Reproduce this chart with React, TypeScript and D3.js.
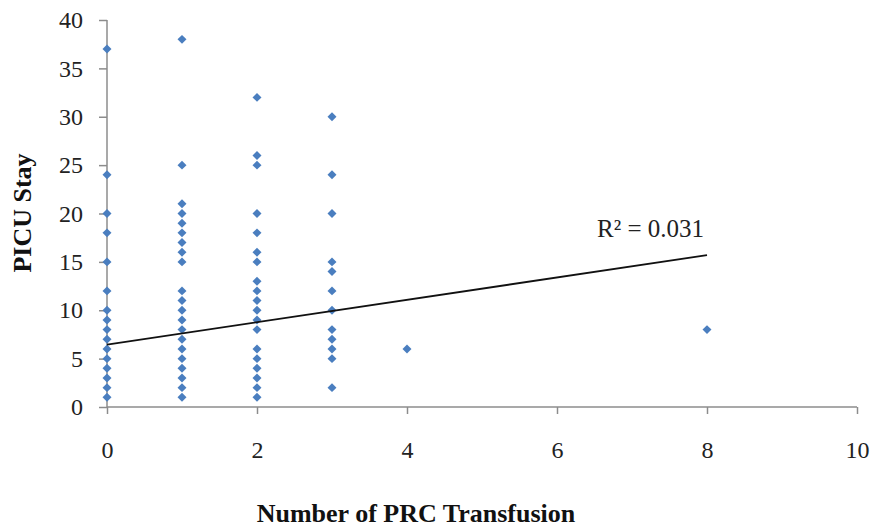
import { useRef, useEffect } from 'react';
import * as d3 from 'd3';

// PRC transfusion count (x) and PICU stay in days (y)
const prc0 = [1, 2, 3, 4, 5, 6, 7, 8, 9, 10, 12, 15, 18, 20, 24, 37];
const prc1 = [1, 2, 3, 4, 5, 6, 7, 8, 9, 10, 11, 12, 15, 16, 17, 18, 19, 20, 21, 25, 38];
const prc2 = [1, 2, 3, 4, 5, 6, 8, 9, 10, 11, 12, 13, 15, 16, 18, 20, 25, 26, 32];
const prc3 = [2, 5, 6, 7, 8, 10, 12, 14, 15, 20, 24, 30];
const prc4 = [6];
const prc8 = [8];

// trendline ends as drawn in the source chart
const trendX = [0, 8];
const trendY = [6.45, 15.7];
const rSquared = '0.031';

const xTicks = [0, 2, 4, 6, 8, 10];
const yTicks = [0, 5, 10, 15, 20, 25, 30, 35, 40];

function App() {
  const ref = useRef<SVGSVGElement | null>(null);

  useEffect(() => {
    const el = ref.current;
    if (!el) return;
    const svg = d3.select(el);
    svg.selectAll('*').remove();

    const font = 'Liberation Serif, Times New Roman, serif';
    const left = 107, right = 857, top = 20, bottom = 407;

    const x = d3.scaleLinear().domain([0, 10]).range([left, right]);
    const y = d3.scaleLinear().domain([0, 40]).range([bottom, top]);

    const points: { x: number; y: number }[] = [];
    [[0, prc0], [1, prc1], [2, prc2], [3, prc3], [4, prc4], [8, prc8]].forEach(([k, vals]) => {
      (vals as number[]).forEach(v => points.push({ x: k as number, y: v }));
    });

    // y axis
    const yAxis = svg.append('g')
      .attr('transform', `translate(${left},0)`)
      .call(d3.axisLeft(y).tickValues(yTicks).tickSize(8).tickPadding(16).tickFormat(d3.format('d')));
    yAxis.select('.domain').attr('stroke', '#8c8c8c').attr('stroke-width', 1.5).attr('d', `M0,${top}V${bottom}`);
    yAxis.selectAll('.tick line').attr('stroke', '#8c8c8c').attr('stroke-width', 1.5);
    yAxis.selectAll('.tick text').attr('font-family', font).attr('font-size', 24).attr('fill', '#222');

    // x axis
    const xAxis = svg.append('g')
      .attr('transform', `translate(0,${bottom})`)
      .call(d3.axisBottom(x).tickValues(xTicks).tickSize(7).tickPadding(27).tickFormat(d3.format('d')));
    xAxis.select('.domain').attr('stroke', '#8c8c8c').attr('stroke-width', 1.5).attr('d', `M${left},0H${right}`);
    xAxis.selectAll('.tick line').attr('stroke', '#8c8c8c').attr('stroke-width', 1.5);
    xAxis.selectAll('.tick text').attr('font-family', font).attr('font-size', 24).attr('fill', '#222');

    // markers: diamonds (squares turned 45 degrees)
    svg.append('g')
      .selectAll('path')
      .data(points)
      .enter()
      .append('path')
      .attr('d', d3.symbol().type(d3.symbolSquare).size(40))
      .attr('transform', d => `translate(${x(d.x)},${y(d.y)}) rotate(45)`)
      .attr('fill', '#4a7ebf');

    // linear trendline
    const line = d3.line<number>().x((_, i) => x(trendX[i])).y(d => y(d));
    svg.append('path')
      .datum(trendY)
      .attr('d', line)
      .attr('fill', 'none')
      .attr('stroke', '#111')
      .attr('stroke-width', 1.8);

    svg.append('text')
      .attr('x', 597)
      .attr('y', 237)
      .attr('font-family', font)
      .attr('font-size', 25)
      .attr('fill', '#222')
      .text(`R² = ${rSquared}`);

    // axis titles
    svg.append('text')
      .attr('x', 416)
      .attr('y', 522)
      .attr('text-anchor', 'middle')
      .attr('font-family', font)
      .attr('font-weight', 'bold')
      .attr('font-size', 26)
      .attr('fill', '#111')
      .text('Number of PRC Transfusion');

    svg.append('text')
      .attr('transform', `translate(31,213) rotate(-90)`)
      .attr('text-anchor', 'middle')
      .attr('font-family', font)
      .attr('font-weight', 'bold')
      .attr('font-size', 26)
      .attr('fill', '#111')
      .text('PICU Stay');
  }, []);

  return (
    <svg ref={ref} width={878} height={529}
      style={{ position: 'absolute', left: 0, top: 0, background: '#fff' }} />
  );
}

export default App;
